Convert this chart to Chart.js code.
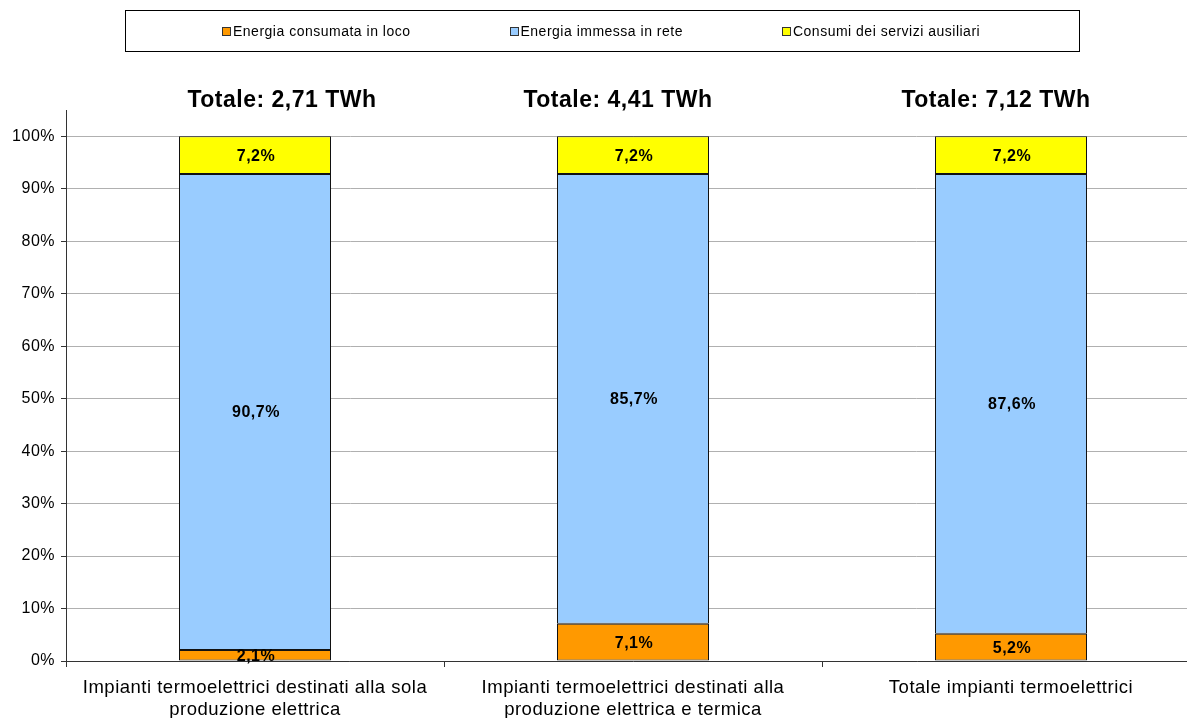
<!DOCTYPE html>
<html>
<head>
<meta charset="utf-8">
<script src="https://cdn.jsdelivr.net/npm/chart.js@4.4.1/dist/chart.umd.min.js"></script>
<style>
  html, body { margin:0; padding:0; background:#fff; overflow:hidden; width:1187px; height:718px; }
  #wrap { position:absolute; left:0; top:0; width:1200px; height:718px; }
  #legend { position:absolute; left:125px; top:10px; width:857px; height:40px; border:1px solid #000;
            display:flex; align-items:center; justify-content:flex-start; gap:99px;
            font-family:"Liberation Sans", Arial, sans-serif; font-size:14px; letter-spacing:0.5px; color:#000;
            box-sizing:content-box; padding-left:96px; }
  .item { display:flex; align-items:center; white-space:nowrap; }
  .sw { width:7px; height:7px; border:1px solid #333; margin-right:2px; }
</style>
</head>
<body>
<div id="wrap"><canvas id="c" width="1200" height="718"></canvas></div>
<div id="legend"></div>
<script>
const categories = [
  ["Impianti termoelettrici destinati alla sola", "produzione elettrica"],
  ["Impianti termoelettrici destinati alla", "produzione elettrica e termica"],
  ["Totale impianti termoelettrici"]
];
const seriesNames = ["Energia consumata in loco", "Energia immessa in rete", "Consumi dei servizi ausiliari"];
const consumataInLoco = [2.1, 7.1, 5.2];
const immessaInRete = [90.7, 85.7, 87.6];
const serviziAusiliari = [7.2, 7.2, 7.2];
const totals = ["2,71", "4,41", "7,12"];
const yTicks = [0, 10, 20, 30, 40, 50, 60, 70, 80, 90, 100];

const colors = ["#FF9900", "#99CCFF", "#FFFF00"];
const FONT = '"Liberation Sans", Arial, sans-serif';
const SP = '0.5px';

// HTML legend
const lg = document.getElementById('legend');
seriesNames.forEach((n, i) => {
  const it = document.createElement('div'); it.className = 'item';
  const sw = document.createElement('span'); sw.className = 'sw'; sw.style.background = colors[i];
  const tx = document.createElement('span'); tx.textContent = n;
  it.appendChild(sw); it.appendChild(tx); lg.appendChild(it);
});

const fmt = v => v.toFixed(1).replace('.', ',') + '%';

const spacingPlugin = {
  id: 'spacing',
  beforeInit(chart) { try { chart.ctx.letterSpacing = SP; } catch (e) {} },
  beforeLayout(chart) { try { chart.ctx.letterSpacing = SP; } catch (e) {} },
  beforeDraw(chart) { try { chart.ctx.letterSpacing = SP; } catch (e) {} }
};

const labelPlugin = {
  id: 'barLabels',
  afterDatasetsDraw(chart) {
    const ctx = chart.ctx;
    ctx.save();
    try { ctx.letterSpacing = SP; } catch (e) {}
    ctx.font = 'bold 16px ' + FONT;
    ctx.fillStyle = '#000';
    ctx.textAlign = 'center';
    ctx.textBaseline = 'middle';
    chart.data.datasets.forEach((ds, di) => {
      const meta = chart.getDatasetMeta(di);
      meta.data.forEach((bar, i) => {
        const p = bar.getProps(['x', 'y', 'base'], true);
        ctx.fillText(fmt(ds.data[i]), p.x + 1, (p.y + p.base) / 2 + 1);
      });
    });
    // totals titles
    const xs = chart.scales.x;
    const offs = [27, -15, -15];
    ctx.font = 'bold 23px ' + FONT;
    totals.forEach((t, i) => {
      ctx.fillText('Totale: ' + t + ' TWh', xs.getPixelForValue(i) + offs[i], 101);
    });
    ctx.restore();
  }
};

new Chart(document.getElementById('c'), {
  type: 'bar',
  data: {
    labels: categories,
    datasets: [
      { label: seriesNames[0], data: consumataInLoco, backgroundColor: colors[0] },
      { label: seriesNames[1], data: immessaInRete, backgroundColor: colors[1] },
      { label: seriesNames[2], data: serviziAusiliari, backgroundColor: colors[2] }
    ].map(d => Object.assign(d, { borderColor: '#111', borderWidth: 1, borderSkipped: false,
                                  categoryPercentage: 1, barPercentage: 152 / 378 }))
  },
  options: {
    responsive: false,
    animation: false,
    layout: { padding: { top: 110, right: 0, left: 0, bottom: 0 } },
    plugins: { legend: { display: false }, tooltip: { enabled: false } },
    scales: {
      x: {
        stacked: true,
        offset: true,
        border: { display: true, color: '#333', width: 1 },
        grid: { display: true, offset: true, drawOnChartArea: false, drawTicks: true, tickLength: 6, color: '#333' },
        ticks: { color: '#000', font: { family: FONT, size: 18.5, lineHeight: 1.2 }, padding: 10, maxRotation: 0, autoSkip: false },
        afterFit(s) { s.height = 57; }
      },
      y: {
        stacked: true,
        min: 0,
        max: 105,
        border: { display: true, color: '#333', width: 1 },
        grid: { color: '#b0b0b0', lineWidth: 1, tickLength: 5, drawTicks: true, tickColor: '#333' },
        ticks: { stepSize: 10, color: '#000', font: { family: FONT, size: 16 }, padding: 6,
                 callback: v => v + '%' },
        afterBuildTicks(s) { s.ticks = yTicks.map(v => ({ value: v })); },
        afterFit(s) { s.width = 66; }
      }
    }
  },
  plugins: [spacingPlugin, labelPlugin]
});
</script>
</body>
</html>
